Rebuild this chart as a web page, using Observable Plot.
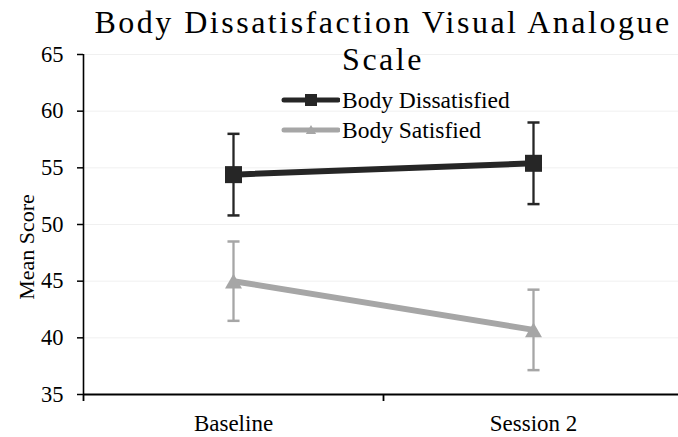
<!DOCTYPE html>
<html>
<head>
<meta charset="utf-8">
<script src="https://cdn.jsdelivr.net/npm/d3@7"></script>
<script src="https://cdn.jsdelivr.net/npm/@observablehq/plot@0.6"></script>
<style>
  html, body { margin: 0; padding: 0; background: #fff; }
  #chart { position: relative; width: 678px; height: 437px; font-family: "Liberation Serif", "Times New Roman", serif; color: #000; }
  #chart svg.plot { position: absolute; left: 0; top: 0; }
  .title { position: absolute; left: 83px; top: 4px; width: 600px; text-align: center; font-size: 32px; line-height: 37px; letter-spacing: 2.5px; }
  .ylabel { position: absolute; left: 27px; top: 247px; transform: translate(-50%, -50%) rotate(-90deg); font-size: 22px; line-height: 22px; white-space: nowrap; }
  .legend { position: absolute; left: 280px; top: 89px; }
  .legend .row { display: flex; align-items: center; height: 22px; margin-bottom: 8px; font-size: 23.5px; line-height: 22px; white-space: nowrap; }
  .legend svg { display: block; margin-right: 2px; }
</style>
</head>
<body>
<div id="chart">
  <div class="title">Body Dissatisfaction Visual Analogue<br>Scale</div>
  <div class="ylabel">Mean Score</div>
  <div class="legend" id="legend"></div>
</div>
<script>
// Sessions on the category axis
const sessions = ["Baseline", "Session 2"];

// Mean scores and error-bar half-widths per group
const dissatisfiedMean = [54.4, 55.4];
const dissatisfiedErr = [3.6, 3.6];
const satisfiedMean = [45.0, 40.7];
const satisfiedErr = [3.5, 3.55];

const seriesNames = ["Body Dissatisfied", "Body Satisfied"];
const seriesColors = ["#262626", "#a6a6a6"];
const seriesSymbols = ["square", "triangle"];

const yTicks = [35, 40, 45, 50, 55, 60, 65];

// Long-format rows: one per group and session
const rows = [];
[[dissatisfiedMean, dissatisfiedErr], [satisfiedMean, satisfiedErr]].forEach(([means, errs], s) => {
  sessions.forEach((session, i) => {
    rows.push({
      series: seriesNames[s],
      session,
      pos: i + 0.5,
      mean: means[i],
      lo: means[i] - errs[i],
      hi: means[i] + errs[i]
    });
  });
});
const dissRows = rows.filter(d => d.series === seriesNames[0]);
const satRows = rows.filter(d => d.series === seriesNames[1]);

// Horizontal stroke used for the error-bar caps
const capSymbol = {
  draw(context, size) {
    const w = Math.sqrt(size);
    context.moveTo(-w / 2, 0);
    context.lineTo(w / 2, 0);
  }
};

const serif = "'Liberation Serif', 'Times New Roman', serif";

const chart = Plot.plot({
  width: 678,
  height: 437,
  marginTop: 54,
  marginBottom: 43,
  marginLeft: 83,
  marginRight: 0,
  style: { fontFamily: serif, fontSize: "22px", color: "#000", background: "transparent", overflow: "hidden" },
  x: { domain: [0, 2], range: [83, 683], axis: null },
  y: { domain: [35, 65], axis: null },
  color: { domain: seriesNames, range: seriesColors },
  marks: [
    // faint horizontal gridlines
    Plot.ruleY(yTicks.filter(t => t > 35), { stroke: "#f0f0f0", strokeWidth: 1 }),
    // value axis
    Plot.axisY({ ticks: yTicks, tickSize: 6, tickPadding: 14, tickFormat: d => String(d), label: null, stroke: "#000", strokeWidth: 1.5, fontSize: 22.5, fontFamily: serif, fill: "#000" }),
    Plot.ruleX([0], { y1: 35, y2: 65, stroke: "#000", strokeWidth: 1.6 }),
    // category axis: tick marks between categories, labels centred in each
    Plot.ruleY([35], { x1: 0, x2: 2, stroke: "#000", strokeWidth: 2 }),
    Plot.axisX({ ticks: [0, 1, 2], tickSize: 7, tickFormat: () => "", label: null, stroke: "#000", strokeWidth: 1.8 }),
    Plot.axisX({ ticks: sessions.map((s, i) => i + 0.5), tickSize: 0, tickPadding: 20, tickFormat: d => sessions[Math.floor(d)], label: null, fontSize: 23, fontFamily: serif, fill: "#000" }),
    // series lines
    Plot.line(rows, { x: "pos", y: "mean", z: "series", stroke: "series", strokeWidth: 6, strokeLinecap: "round" }),
    // error bars with caps
    Plot.ruleX(rows, { x: "pos", y1: "lo", y2: "hi", stroke: "series", strokeWidth: 2.3 }),
    Plot.dot(rows, { x: "pos", y: "hi", symbol: capSymbol, r: 6.8, stroke: "series", strokeWidth: 2.5 }),
    Plot.dot(rows, { x: "pos", y: "lo", symbol: capSymbol, r: 6.8, stroke: "series", strokeWidth: 2.5 }),
    // markers
    Plot.dot(dissRows, { x: "pos", y: "mean", symbol: "square", r: 9.6, fill: seriesColors[0], stroke: "none" }),
    Plot.dot(satRows, { x: "pos", y: "mean", symbol: "triangle", r: 6.3, dy: 2.4, fill: seriesColors[1], stroke: "none" })
  ]
});
chart.classList.add("plot");
document.getElementById("chart").prepend(chart);

// Legend: line swatch with marker, then the series name
const legend = d3.select("#legend");
seriesNames.forEach((name, s) => {
  const row = legend.append("div").attr("class", "row");
  const sw = row.append("svg").attr("width", 60).attr("height", 22);
  sw.append("line")
    .attr("x1", 4).attr("x2", 58).attr("y1", 11).attr("y2", 11)
    .attr("stroke", seriesColors[s]).attr("stroke-width", 5).attr("stroke-linecap", "round");
  const sym = seriesSymbols[s] === "square" ? d3.symbolSquare : d3.symbolTriangle;
  const size = seriesSymbols[s] === "square" ? 144 : 45;
  sw.append("path")
    .attr("transform", `translate(31,${seriesSymbols[s] === "square" ? 11 : 12})`)
    .attr("d", d3.symbol(sym, size)())
    .attr("fill", seriesColors[s]);
  row.append("span").text(name);
});
</script>
</body>
</html>
